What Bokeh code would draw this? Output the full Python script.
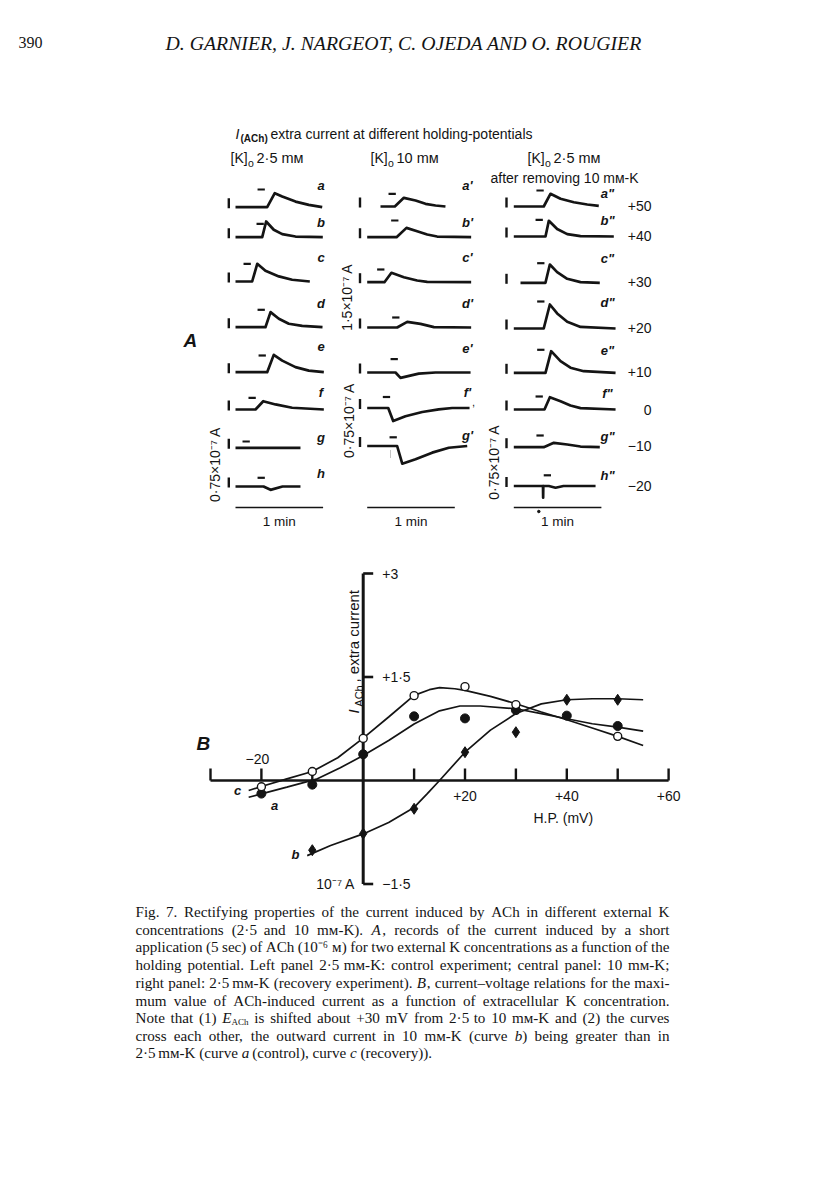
import math
from bokeh.plotting import figure
from bokeh.models import Range1d
from bokeh.core.properties import value
from bokeh.embed import file_html
from bokeh.resources import INLINE

# ---------------- Panel A : records, time (s) and current (x 10^-7 A) ----------------
left_labels = ["a", "b", "c", "d", "e", "f", "g", "h"]
left_t = [
    [0, 21.7, 26.9, 32.0, 41.1, 50.2, 59.4],
    [0, 18.3, 21.0, 26.2, 32.0, 41.1, 59.8],
    [0, 11.4, 14.9, 20.5, 29.7, 38.8, 50.9],
    [0, 20.5, 24.0, 29.7, 36.5, 45.7, 59.6],
    [0, 21.7, 26.2, 32.0, 41.1, 50.2, 60.5],
    [0, 13.7, 19.0, 27.4, 38.8, 60.5],
    [0, 44.5],
    [0, 19.2, 24.0, 32.2, 44.5],
]
left_i = [
    [0, 0, 1.05, 0.80, 0.42, 0.17, 0.0],
    [0, 0, 1.18, 0.56, 0.23, 0.05, 0],
    [0, 0, 1.33, 0.80, 0.38, 0.13, 0],
    [0, 0, 1.13, 0.63, 0.26, 0.10, 0],
    [0, 0, 1.30, 0.87, 0.38, 0.12, 0],
    [0, 0, 0.62, 0.38, 0.13, 0],
    [0, 0],
    [0, 0, -0.25, 0, 0],
]
left_stim = [15.1, 14.4, 5.5, 15.1, 15.8, 8.9, 4.8, 15.1]
left_bar = [0.75] * 8

mid_labels = ["a'", "b'", "c'", "d'", "e'", "f'", "g'"]
mid_t = [
    [0, 9.8, 16.0, 24.0, 30.8, 37.7, 44.5],
    [0, 20.1, 26.9, 34.2, 41.1, 47.9, 71.2],
    [0, 11.8, 16.6, 25.1, 34.2, 41.1, 71.2],
    [0, 20.5, 27.4, 36.5, 45.7, 71.2],
    [0, 19.4, 22.8, 35.3, 46.8, 70.8],
    [0, 14.4, 17.8, 26.2, 37.7, 49.0, 58.2, 70.1],
    [0, 20.5, 24.0, 33.1, 44.5, 55.9, 68.5],
]
mid_i = [
    [0, 0, 1.30, 0.90, 0.40, 0.15, 0],
    [0, 0, 1.40, 0.90, 0.40, 0.10, 0],
    [0, 0, 1.41, 0.75, 0.25, 0.05, 0],
    [0, 0, 0.84, 0.54, 0.05, 0],
    [0, 0, -0.40, -0.08, 0, 0],
    [0, 0, -0.98, -0.62, -0.30, -0.10, 0, 0],
    [0, 0, -1.33, -1.00, -0.50, -0.13, 0],
]
mid_stim = [5.5, 16.4, 6.8, 17.1, 16.0, 10.7, 15.3]
mid_bar = [1.5, 1.5, 1.5, 1.5, 0.75, 0.75, 0.75]

right_labels = ['a"', 'b"', 'c"', 'd"', 'e"', 'f"', 'g"', 'h"']
right_t = [
    [0, 20.5, 25.1, 32.0, 41.1, 50.3, 58.2],
    [0, 21.7, 24.0, 29.7, 36.6, 45.7, 68.5],
    [0, 17.1, 20.1, 25.1, 32.0, 41.1, 54.3],
    [0, 20.5, 24.7, 29.7, 36.6, 45.7, 69.7],
    [0, 21.7, 25.6, 32.0, 38.8, 47.9, 69.7],
    [0, 21.0, 24.7, 32.0, 38.8, 45.7, 69.7],
    [0, 20.5, 27.4, 36.6, 45.7, 58.9],
    [0, 20.0, 20.1, 20.2, 24.0, 28.6, 34.0, 56.0],
]
right_i = [
    [0, 0, 0.95, 0.58, 0.32, 0.15, 0.05],
    [0, 0, 1.18, 0.56, 0.18, 0.03, 0],
    [0, 0, 1.37, 0.80, 0.30, 0.05, 0],
    [0, 0, 1.80, 1.13, 0.50, 0.12, 0],
    [0, 0, 1.62, 0.87, 0.38, 0.12, 0],
    [0, 0, 0.92, 0.62, 0.30, 0.10, 0],
    [0, 0, 0.33, 0.20, 0.05, 0],
    [0, 0, -0.88, 0, 0, -0.13, 0, 0],
]
right_stim = [15.5, 14.9, 11.4, 16.0, 16.0, 14.9, 15.5, 20.5]
right_bar = [0.75] * 8
holding_potentials = ["+50", "+40", "+30", "+20", "+10", "0", "\u221210", "\u221220"]

# ---------------- Panel B : I-V relations (H.P. in mV, current in 10^-7 A) ----------------
hp_c = [-20, -10, 0, 10, 20, 30, 50]
i_c = [-0.09, 0.13, 0.61, 1.23, 1.36, 1.10, 0.64]
hp_a = [-20, -10, 0, 10, 20, 30, 40, 50]
i_a = [-0.19, -0.06, 0.38, 0.93, 0.90, 1.02, 0.94, 0.79]
hp_b = [-10, 0, 10, 20, 30, 40, 50]
i_b = [-1.01, -0.77, -0.41, 0.41, 0.70, 1.17, 1.17]

curve_c_x = [-22.5, -20, -15, -10, -5, 0, 5, 10, 13, 15, 18, 20, 25, 30, 35, 40, 45, 50, 55]
curve_c_y = [-0.145, -0.087, 0.024, 0.131, 0.33, 0.614, 0.92, 1.234, 1.316, 1.345, 1.33, 1.306,
             1.219, 1.113, 0.992, 0.88, 0.76, 0.639, 0.508]
curve_a_x = [-22.5, -20, -15, -9, -4.5, 0, 5, 10, 15, 19, 23, 30, 35, 40, 45, 50, 55]
curve_a_y = [-0.242, -0.194, -0.097, 0.024, 0.184, 0.363, 0.58, 0.82, 1.01, 1.08, 1.08, 1.04,
             0.97, 0.895, 0.822, 0.774, 0.716]
curve_b_x = [-11, -6.4, 0, 5, 10, 12.6, 15, 20, 25, 30, 35, 40, 45, 50, 55]
curve_b_y = [-1.089, -0.943, -0.774, -0.61, -0.39, -0.19, 0.0, 0.41, 0.73, 0.97, 1.11, 1.17,
             1.185, 1.185, 1.17]

x_ticks = [-30, -20, -10, 10, 20, 30, 40, 50, 60]
x_tick_labels = {-20: "\u221220", 20: "+20", 40: "+40", 60: "+60"}
y_ticks = [3, 1.5, -1.5]
y_tick_labels = ["+3", "+1\u00b75", "\u22121\u00b75"]

# {..} = italic, ~..~ = subscript
caption_lines = [
    "Fig. 7. Rectifying properties of the current induced by ACh in different external K",
    "concentrations (2\u00b75 and 10 m\u1d0d-K). {A}, records of the current induced by a short",
    "application (5 sec) of ACh (10\u207b\u2076 \u1d0d) for two external K concentrations as a function of the",
    "holding potential. Left panel 2\u00b75 m\u1d0d-K: control experiment; central panel: 10 m\u1d0d-K;",
    "right panel: 2\u00b75 m\u1d0d-K (recovery experiment). {B}, current\u2013voltage relations for the maxi-",
    "mum value of ACh-induced current as a function of extracellular K concentration.",
    "Note that (1) {E}~ACh~ is shifted about +30 mV from 2\u00b75 to 10 m\u1d0d-K and (2) the curves",
    "cross each other, the outward current in 10 m\u1d0d-K (curve {b}) being greater than in",
    "2\u00b75 m\u1d0d-K (curve {a} (control), curve {c} (recovery)).",
]

# ---------------- layout ----------------
INK = "#141414"
SANS = "Liberation Sans"
SERIF = "Liberation Serif"
PX_PER_S = 1.46
BAR_PX = 10.0

p = figure(width=800, height=1165, x_range=Range1d(0, 800), y_range=Range1d(1165, 0),
           x_axis_type=None, y_axis_type=None, output_backend="svg", toolbar_location=None,
           min_border=0, outline_line_color=None,
           background_fill_color="white", border_fill_color="white")
p.extra_x_ranges = {"mv": Range1d((0 - 362.7) / 5.09, (800 - 362.7) / 5.09)}
p.extra_y_ranges = {"cur": Range1d((780 - 1165) / 69.0, (780 - 0) / 69.0)}


def txt(x, y, s, size=13, font=SANS, style="normal", align="left", angle=0.0,
        xr=None, yr=None, xo=0, yo=0, baseline="middle"):
    kw = {}
    if xr:
        kw["x_range_name"] = xr
    if yr:
        kw["y_range_name"] = yr
    p.text(x=[x], y=[y], text=[s], text_font=value(font), text_font_size=value(f"{size}px"),
           text_font_style=style, text_align=align, text_baseline=baseline, angle=angle,
           x_offset=xo, y_offset=yo, text_color=INK, **kw)


# header
txt(18, 42, "390", size=16, font=SERIF)
txt(165, 42, "D. GARNIER, J. NARGEOT, C. OJEDA AND O. ROUGIER", size=19.8, font=SERIF, style="italic")

# Panel A titles
txt(235, 133, "I", size=14, style="italic")
txt(240, 137.5, "(ACh)", size=10, style="bold")
txt(270, 133, "extra current at different holding-potentials", size=14)
for x, conc in [(230, "2\u00b75 m\u1d0d"), (370, "10 m\u1d0d"), (527, "2\u00b75 m\u1d0d")]:
    txt(x, 157.5, "[K]", size=14)
    txt(x + 17.5, 162, "o", size=10.5)
    txt(x + 26, 157.5, conc, size=14.5)
txt(490, 177, "after removing 10 m\u1d0d-K", size=14)
txt(183, 340, "A", size=19, style="bold italic")

# column geometry (screen px)
left_x0 = [235] * 8
left_y = [206.7, 236.7, 281, 326.7, 371.7, 409, 447.3, 486]
left_sh = [17.7, 13.4, 17.7, 17.4, 16.7, 11.7, 6.3, 8.7]
left_lab_y = [185, 221.7, 256.7, 302.7, 346, 391.7, 437.3, 473.3]
mid_x0 = [380, 366.7, 366.7, 366.7, 366.7, 366.7, 366.7]
mid_y = [206, 236.7, 281.7, 327, 372, 407.5, 445.5]
mid_sh = [12.7, 16.7, 12.7, 10, 13.4, 11, 8.7]
mid_lab_y = [185, 221.7, 256.7, 303.3, 348, 391.7, 435]
right_x0 = [513.3, 513.3, 520, 513.3, 513.3, 513.3, 513.3, 513.3]
right_y = [206, 236, 282.3, 328, 372.3, 409, 446.7, 485.5]
right_sh = [16, 16.7, 19.6, 27, 23, 13, 11.7, 10.7]
right_lab_y = [193, 220, 258, 302, 350, 393, 436, 475]
hold_y = [205, 235, 281, 327.3, 371.7, 409, 445, 485]


def column(x0s, ys, ts, cs, bars, stims, shs, bar_x, labels, lab_x, lab_y):
    xs_all, ys_all = [], []
    for x0, y0, t, c, b in zip(x0s, ys, ts, cs, bars):
        k = BAR_PX / b
        xs_all.append([x0 + PX_PER_S * tt for tt in t])
        ys_all.append([y0 - k * v for v in c])
    p.multi_line(xs_all, ys_all, line_width=2.7, line_color=INK, line_join="round")
    n = len(ys)
    p.segment(x0=[bar_x] * n, x1=[bar_x] * n, y0=[y + 1 for y in ys], y1=[y - 9 for y in ys],
              line_width=2.4, line_color=INK)
    p.segment(x0=[x0 + PX_PER_S * s for x0, s in zip(x0s, stims)],
              x1=[x0 + PX_PER_S * (s + 5) for x0, s in zip(x0s, stims)],
              y0=[y - h for y, h in zip(ys, shs)], y1=[y - h for y, h in zip(ys, shs)],
              line_width=2.2, line_color=INK)
    p.text(x=[lab_x] * n, y=lab_y, text=labels, text_font=value(SANS),
           text_font_size=value("13px"), text_font_style="bold italic", text_align="center",
           text_baseline="middle", text_color=INK)


column(left_x0, left_y, left_t, left_i, left_bar, left_stim, left_sh, 228.3,
       left_labels, 320.5, left_lab_y)
column(mid_x0, mid_y, mid_t, mid_i, mid_bar, mid_stim, mid_sh, 359.5,
       mid_labels, 467, mid_lab_y)
column(right_x0, right_y, right_t, right_i, right_bar, right_stim, right_sh, 506,
       right_labels, 607, right_lab_y)

p.text(x=[651] * 8, y=hold_y, text=holding_potentials, text_font=value(SANS),
       text_font_size=value("14px"), text_align="right", text_baseline="middle", text_color=INK)

# small marks
p.text(x=[473], y=[401], text=[","], text_font=value(SANS), text_font_size=value("11px"),
       text_align="center", text_baseline="middle", text_color=INK)
p.segment(x0=[390], x1=[390], y0=[450], y1=[458], line_width=1, line_color="#888",
          line_dash="1 1")
p.scatter(x=[538.3], y=[511], size=2.5, color=INK)

# 1 min bars
for x0 in (235, 366.7, 513.3):
    p.segment(x0=[x0], x1=[x0 + PX_PER_S * 60], y0=[507], y1=[507], line_width=1.6,
              line_color=INK)
    txt(x0 + PX_PER_S * 30, 521, "1 min", size=13.5, align="center")

# rotated calibration labels
for x, y, s in [(214, 464, "0\u00b775\u00d710\u207b\u2077 A"), (346.7, 296.7, "1\u00b75\u00d710\u207b\u2077 A"),
                (348.3, 420, "0\u00b775\u00d710\u207b\u2077 A"), (493.3, 461.7, "0\u00b775\u00d710\u207b\u2077 A")]:
    txt(x, y, s, size=14, align="center", angle=math.pi / 2)

# ---------------- Panel B ----------------
MV, CU = "mv", "cur"
TICK_UP = 12 / 69.0
TICK_RIGHT = 10 / 5.09
p.segment(x0=[-30], x1=[60], y0=[0], y1=[0], line_width=2.6, line_color=INK,
          x_range_name=MV, y_range_name=CU)
p.segment(x0=x_ticks, x1=x_ticks, y0=[0] * len(x_ticks), y1=[TICK_UP] * len(x_ticks),
          line_width=2.4, line_color=INK, x_range_name=MV, y_range_name=CU)
p.segment(x0=[0], x1=[0], y0=[-1.5], y1=[3], line_width=3, line_color=INK,
          x_range_name=MV, y_range_name=CU)
p.segment(x0=[0] * 3, x1=[TICK_RIGHT] * 3, y0=y_ticks, y1=y_ticks, line_width=2.6,
          line_color=INK, x_range_name=MV, y_range_name=CU)

for v, s in x_tick_labels.items():
    if v < 0:
        txt(v, 0, s, size=14, align="center", xr=MV, yr=CU, xo=-4, yo=-22)
    else:
        txt(v, 0, s, size=14, align="center", xr=MV, yr=CU, yo=15)
for v, s in zip(y_ticks, y_tick_labels):
    txt(0, v, s, size=14, xr=MV, yr=CU, xo=19)
txt(0, -1.5, "10\u207b\u2077 A", size=14, align="right", xr=MV, yr=CU, xo=-8)
txt(39.3, 0, "H.P. (mV)", size=14, align="center", xr=MV, yr=CU, yo=37)

# rotated y label
txt(0, 1.0, "I", size=15, style="italic", align="center", angle=math.pi / 2, xr=MV, yr=CU, xo=-9.4)
txt(0, 1.07, "ACh", size=11, align="left", angle=math.pi / 2, xr=MV, yr=CU, xo=-4.2)
txt(0, 1.42, ", extra current", size=15, align="left", angle=math.pi / 2, xr=MV, yr=CU, xo=-9.4)

txt(196, 743, "B", size=19, style="bold italic")

for cx, cy in [(curve_c_x, curve_c_y), (curve_a_x, curve_a_y), (curve_b_x, curve_b_y)]:
    p.line(cx, cy, line_width=1.7, line_color=INK, x_range_name=MV, y_range_name=CU)

p.scatter(hp_a, i_a, marker="circle", size=9, fill_color=INK, line_color=INK,
          x_range_name=MV, y_range_name=CU)
p.scatter(hp_b, i_b, marker="diamond", size=11, fill_color=INK, line_color=INK,
          x_range_name=MV, y_range_name=CU)
p.scatter(hp_c, i_c, marker="circle", size=8, fill_color="white", line_color=INK, line_width=1.4,
          x_range_name=MV, y_range_name=CU)

txt(237, 790, "c", size=13, style="bold italic", align="center")
txt(274, 805, "a", size=13, style="bold italic", align="center")
txt(295, 854, "b", size=13, style="bold italic", align="center")

# ---------------- caption (justified, Times metrics) ----------------
_W = {" ": 250, "!": 333, "(": 333, ")": 333, "+": 564, ",": 250, "-": 333, ".": 250,
      ":": 278, ";": 278, "\u00b7": 250, "\u2013": 500, "\u1d0d": 640, "\u207b": 360,
      "\u2076": 360, "[": 333, "]": 333, "'": 180}
for ch in "0123456789":
    _W[ch] = 500
_W.update(dict(zip("ABCDEFGHIJKLMNOPQRSTUVWXYZ",
                   [722, 667, 667, 722, 611, 556, 722, 722, 333, 389, 722, 611, 889, 722, 722,
                    556, 722, 667, 556, 611, 722, 722, 944, 722, 722, 611])))
_W.update(dict(zip("abcdefghijklmnopqrstuvwxyz",
                   [444, 500, 444, 500, 444, 333, 500, 500, 278, 278, 500, 278, 778, 500, 500,
                    500, 500, 333, 389, 278, 500, 500, 722, 500, 500, 444])))


def parse(word):
    segs, cur, mode = [], "", "n"
    for ch in word:
        if ch in "{}~":
            if cur:
                segs.append((cur, mode))
            cur = ""
            if ch == "{":
                mode = "i"
            elif ch == "~":
                mode = "s" if mode != "s" else "n"
            else:
                mode = "n"
        else:
            cur += ch
    if cur:
        segs.append((cur, mode))
    return segs


SUB = 0.6


def seg_w(s, mode, size):
    f = size * (SUB if mode == "s" else 1.0)
    return sum(_W.get(ch, 500) for ch in s) / 1000.0 * f


CAP_X0, CAP_X1 = 135, 669
cap_y = [911, 929, 946.7, 964.3, 982.3, 1000, 1017.7, 1035, 1052.5]
words_per_line = [[parse(w) for w in line.split(" ")] for line in caption_lines]


def line_words_w(words, size):
    return sum(seg_w(s, m, size) for w in words for s, m in w)


cap_size = 16.0
for words in words_per_line[:-1]:
    gaps = len(words) - 1
    unit = line_words_w(words, 1.0)
    cap_size = min(cap_size, (CAP_X1 - CAP_X0 - gaps * 3.4) / unit)

for li, (yy, words) in enumerate(zip(cap_y, words_per_line)):
    gaps = len(words) - 1
    ww = line_words_w(words, cap_size)
    if li < len(words_per_line) - 1:
        space = (CAP_X1 - CAP_X0 - ww) / gaps
    else:
        space = 0.25 * cap_size
    x = CAP_X0
    for w in words:
        for s, m in w:
            if m == "s":
                txt(x, yy + 3.5, s, size=round(cap_size * SUB, 2), font=SERIF)
            else:
                txt(x, yy, s, size=round(cap_size, 2), font=SERIF,
                    style="italic" if m == "i" else "normal")
            x += seg_w(s, m, cap_size)
        x += space

open("out.html", "w").write(file_html(p, INLINE))
